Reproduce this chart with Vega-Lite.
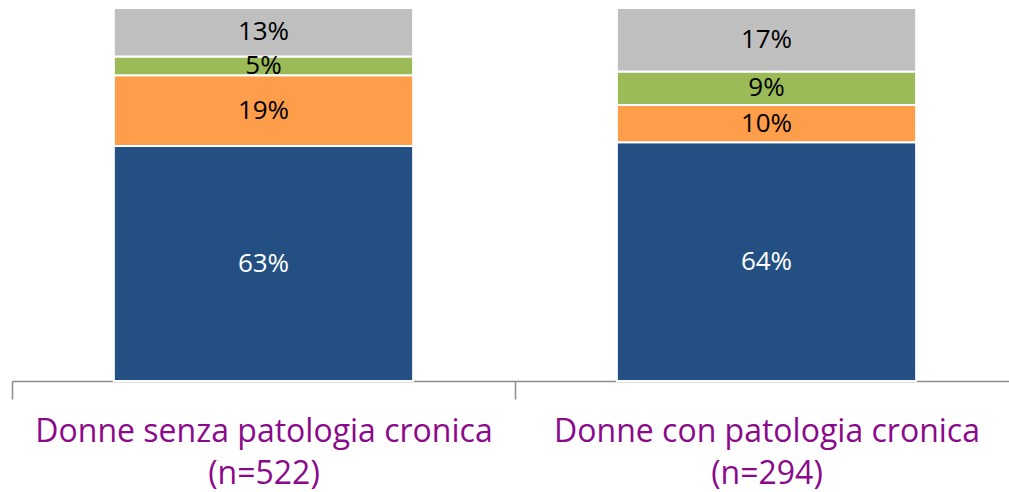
{
  "$schema": "https://vega.github.io/schema/vega-lite/v6.json",
  "autosize": {"type": "none"},
  "width": 1006,
  "height": 373,
  "padding": {"left": 12, "top": 8, "right": 0, "bottom": 111},
  "background": "white",
  "config": {"view": {"stroke": null}},
  "data": {
    "values": [
      {"grp": "Donne senza patologia cronica|(n=522)", "cat": "A", "ord": 1, "pct": 63},
      {"grp": "Donne senza patologia cronica|(n=522)", "cat": "B", "ord": 2, "pct": 19},
      {"grp": "Donne senza patologia cronica|(n=522)", "cat": "C", "ord": 3, "pct": 5},
      {"grp": "Donne senza patologia cronica|(n=522)", "cat": "D", "ord": 4, "pct": 13},
      {"grp": "Donne con patologia cronica|(n=294)", "cat": "A", "ord": 1, "pct": 64},
      {"grp": "Donne con patologia cronica|(n=294)", "cat": "B", "ord": 2, "pct": 10},
      {"grp": "Donne con patologia cronica|(n=294)", "cat": "C", "ord": 3, "pct": 9},
      {"grp": "Donne con patologia cronica|(n=294)", "cat": "D", "ord": 4, "pct": 17}
    ]
  },
  "transform": [
    {"stack": "pct", "groupby": ["grp"], "sort": [{"field": "ord", "order": "ascending"}], "as": ["y0", "y1"]},
    {"calculate": "(datum.y0 + datum.y1) / 2", "as": "ymid"},
    {"calculate": "datum.pct + '%'", "as": "lbl"}
  ],
  "encoding": {
    "x": {
      "field": "grp",
      "type": "nominal",
      "sort": null,
      "scale": {"paddingInner": 0, "paddingOuter": 0},
      "axis": {
        "title": null,
        "labelAngle": 0,
        "labelExpr": "split(datum.label, '|')",
        "labelFont": "Open Sans",
        "labelFontSize": 32,
        "labelColor": "#8B0A8B",
        "labelLineHeight": 42,
        "labelPadding": 17,
        "labelBaseline": "top",
        "labelLimit": 600,
        "tickBand": "extent",
        "tickSize": 18,
        "tickColor": "#8c8c8c",
        "domainColor": "#8c8c8c",
        "domainWidth": 1.5,
        "tickWidth": 1.5,
        "grid": false
      }
    }
  },
  "layer": [
    {
      "mark": {"type": "bar", "width": {"band": 0.595}, "stroke": "white", "strokeWidth": 2},
      "encoding": {
        "y": {"field": "y0", "type": "quantitative", "scale": {"domain": [0, 100]}, "axis": null},
        "y2": {"field": "y1"},
        "color": {
          "field": "cat",
          "type": "nominal",
          "scale": {"domain": ["A", "B", "C", "D"], "range": ["#234F83", "#FF9E4A", "#9BBB59", "#BFBFBF"]},
          "legend": null
        }
      }
    },
    {
      "mark": {"type": "text", "font": "Open Sans", "fontSize": 26, "baseline": "middle"},
      "encoding": {
        "y": {"field": "ymid", "type": "quantitative", "scale": {"domain": [0, 100]}},
        "text": {"field": "lbl", "type": "nominal"},
        "color": {
          "condition": {"test": "datum.cat === 'A'", "value": "white"},
          "value": "black"
        }
      }
    }
  ]
}
